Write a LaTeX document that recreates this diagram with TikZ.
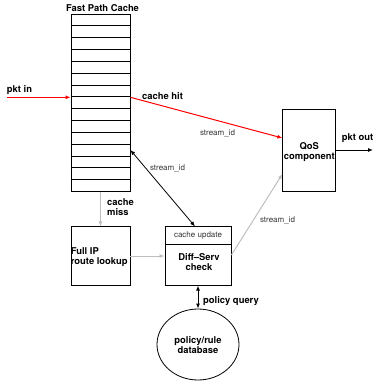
\documentclass[tikz,border=0pt]{standalone}
\usepackage{fontspec}
\setmainfont{TeX Gyre Heros}
\usepackage{tikz,xcolor}
\usetikzlibrary{arrows.meta,shapes.geometric,calc}
\definecolor{lightline}{RGB}{190,190,190}
\tikzset{
  box/.style={draw=black,line width=0.8pt,inner sep=0pt},
  lbl/.style={font=\fontsize{9.4}{10}\selectfont\bfseries,inner sep=0pt,align=center},
  small/.style={font=\fontsize{8}{9}\selectfont,text=black!80,inner sep=0pt},
  tip/.style={-{Latex[length=5pt,width=4pt]}},
  bitip/.style={{Latex[length=5pt,width=4pt]}-{Latex[length=5pt,width=4pt]}}
}

\begin{document}
\begin{tikzpicture}[x=1pt,y=-1pt]
\useasboundingbox (0,0) rectangle (373,383);

\node[box,minimum width=59pt,minimum height=177.4pt] (cache) at (100.5,103) {};
\foreach \i in {1,...,14} {\draw[line width=0.7pt] (cache.north west) ++(0,\i*11.83) -- ++(59,0);}
\node[lbl] (title) at (102.5,8) {Fast Path Cache};

\node[box,minimum width=53pt,minimum height=82pt] (qos) at (309.3,150) {};
\node[lbl] (qostext) at (309.3,152) {QoS\\component};

\node[box,minimum width=59pt,minimum height=58.3pt] (ip) at (100.5,256) {};
\node[lbl,align=left,anchor=west] (iptext) at (ip.west |- 0,257.5) {Full IP\\route lookup};

\node[box,minimum width=66pt,minimum height=58.3pt] (diff) at (198,256) {};
\draw[line width=0.8pt] (165,244) -- (231,244);
\node[small] (upd) at (198,235.5) {cache update};
\node[lbl] (difftext) at (199,262) {Diff--Serv\\check};

\node[box,ellipse,minimum width=82pt,minimum height=71pt] (db) at (198,344.5) {};
\node[lbl] (dbtext) at (198,345) {policy/rule\\database};

% packet path
\coordinate (in) at (7,97.3);
\coordinate (out) at (373,150);
\draw[red,line width=1pt,tip] (in) -- (cache.west |- in);
\node[lbl] (inlbl) at (19.5,90) {pkt in};
\draw[red,line width=1pt,tip] (cache.east |- in) -- (qos.west |- 0,138);
\node[lbl,anchor=west] (hit) at (142,96) {cache hit};
\node[small] (sid1) at (217.5,133) {stream\_id};
\draw[black,line width=1pt,tip] (qos.east |- out) -- (out);
\node[lbl] (outlbl) at (357.5,138) {pkt out};

% miss path
\draw[lightline,line width=1pt,tip] (cache.south) -- (ip.north);
\node[lbl,align=left,anchor=west] (miss) at (107,207.5) {cache\\miss};
\draw[lightline,line width=1pt,tip] (ip.east) -- (diff.west);
\draw[lightline,line width=1pt,tip] (diff.east |- 0,255) -- (qos.west |- 0,174);
\node[small] (sid2) at (277.5,220) {stream\_id};
\draw[black,line width=0.8pt,bitip] (cache.east |- 0,150) -- (diff.north -| 195,0);
\node[small] (sid3) at (167.5,168) {stream\_id};

\draw[black,line width=1pt,bitip] (diff.south) -- (db.north);
\node[lbl,anchor=west] (query) at (203,301) {policy query};

\end{tikzpicture}
\end{document}
